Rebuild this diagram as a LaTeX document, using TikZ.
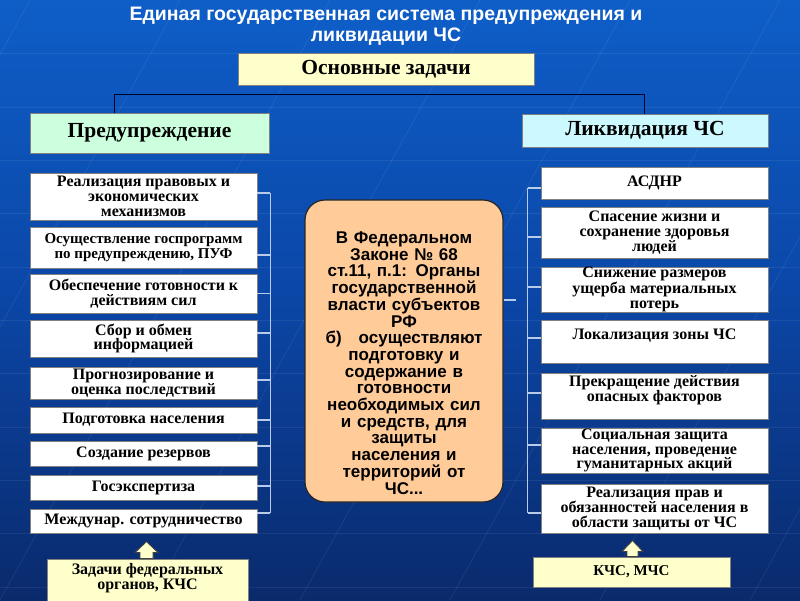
\documentclass[tikz,border=0pt]{standalone}
\usepackage{fontspec}
\setmainfont{Liberation Serif}
\newfontfamily\sansb{Liberation Sans}
\usetikzlibrary{calc}
\definecolor{bgtop}{HTML}{0E5EC8}
\definecolor{bgmid}{HTML}{0B46A6}
\definecolor{bgbot}{HTML}{0A2A6C}
\definecolor{yel}{HTML}{FFFFCC}
\definecolor{grn}{HTML}{CCFFDD}
\definecolor{cyn}{HTML}{CCF8FF}
\definecolor{peach}{HTML}{FFCC99}
\definecolor{brkc}{HTML}{B8CCEA}
\begin{document}
\begin{tikzpicture}[x=1pt,y=-1pt,
  box/.style={draw=black!50, line width=0.8pt, inner sep=0pt, align=center,
    font=\fontsize{16}{14.8}\selectfont\bfseries},
  wbox/.style={box, fill=white, minimum width=227pt},
  head/.style={box, font=\fontsize{21.5}{24}\selectfont\bfseries},
  conn/.style={draw=black!85!blue, line width=1pt},
  brk/.style={draw=brkc, line width=1.2pt},
  barrow/.style={draw=black!75, fill=yel, line width=0.8pt, line join=miter},
  faint/.style={draw=white, opacity=0.07, line width=0.8pt}]
% background
\useasboundingbox (0,0) rectangle (800,600);
\shade[top color=bgtop, bottom color=bgbot, middle color=bgmid] (0,0) rectangle (800,600);
\foreach \y in {53,107,160,213,267,320,373,427,480,533,587}
  \draw[faint] (0,\y) -- (800,\y);
\foreach \x in {-300,-150,0,150,300,450,600,750}
  \draw[faint] (\x,600) -- (\x+330,0);

% title
\node[font=\sansb\bfseries\fontsize{19.5}{20.5}\selectfont, text=white, align=center] (title) at (386,26)
  {Единая государственная система предупреждения и\\ликвидации ЧС};

% headers
\node[head, fill=yel, minimum width=296pt, minimum height=32pt] (osn) at (386,69) {Основные задачи};
\node[head, fill=grn, minimum width=239pt, minimum height=40pt] (pred) at (149.5,133) {Предупреждение};
\node[head, fill=cyn, minimum width=246pt, minimum height=33pt] (liq) at (645,130.5) {Ликвидация ЧС};
\draw[conn] ([xshift=85pt]pred.north west) -- ++(0,-18) -| ([xshift=123pt]liq.north west);

% left column
\node[wbox, minimum height=47pt] (L1) at (143.5,196.5) {Реализация правовых и\\экономических\\механизмов};
\node[wbox, minimum height=41pt, font=\fontsize{15}{14.5}\selectfont\bfseries] (L2) at (143.5,247.5) {Осуществление госпрограмм\\по предупреждению, ПУФ};
\node[wbox, minimum height=39pt] (L3) at (143.5,293.5) {Обеспечение готовности к\\действиям сил};
\node[wbox, minimum height=37pt] (L4) at (143.5,338.5) {Сбор и обмен\\информацией};
\node[wbox, minimum height=32pt] (L5) at (143.5,383) {Прогнозирование и\\оценка последствий};
\node[wbox, minimum height=26pt] (L6) at (143.5,420) {Подготовка населения};
\node[wbox, minimum height=25pt] (L7) at (143.5,453.5) {Создание резервов};
\node[wbox, minimum height=25pt] (L8) at (143.5,487.5) {Госэкспертиза};
\node[wbox, minimum height=24pt] (L9) at (143.5,521) {Междунар. сотрудничество};

\coordinate (blt) at ($(L1.east)+(13,-3.5)$);
\coordinate (blb) at ($(L9.east)+(13,-8)$);
\draw[brk] (blt) -- (blb);
\foreach \n/\d in {L1/-3.5,L2/7.5,L3/0,L4/-5.5,L5/-3,L6/0,L7/-7.5,L8/-1.5,L9/-8}
  \draw[brk] ($(\n.east)+(0,\d)$) -- ($(\n.east)+(13,\d)$);

% right column
\node[wbox, minimum height=32pt] (R1) at (654.5,183) {АСДНР};
\node[wbox, minimum height=51pt] (R2) at (654.5,232.5) {Спасение жизни и\\сохранение здоровья\\людей};
\node[wbox, minimum height=45pt] (R3) at (654.5,289.5) {Снижение размеров\\ущерба материальных\\потерь};
\node[wbox, minimum height=43pt] (R4) at (654.5,341.5) {Локализация зоны ЧС\\\mbox{}};
\node[wbox, minimum height=46pt] (R5) at (654.5,396) {Прекращение действия\\опасных факторов\\\mbox{}};
\node[wbox, minimum height=45pt] (R6) at (654.5,450.5) {Социальная защита\\населения, проведение\\гуманитарных акций};
\node[wbox, minimum height=49pt] (R7) at (654.5,508.5) {Реализация прав и\\обязанностей населения в\\области защиты от ЧС};

\coordinate (brt) at ($(R1.west)+(-13,5)$);
\coordinate (brb) at ($(R7.west)+(-13,4.5)$);
\draw[brk] (brt) -- (brb);
\foreach \n/\d in {R1/5,R2/4.5,R3/-2.5,R4/-3.5,R5/-3,R6/-5.5,R7/4.5}
  \draw[brk] ($(\n.west)+(0,\d)$) -- ($(\n.west)+(-13,\d)$);

% center
\node[draw=black!85, line width=1.2pt, fill=peach, rounded corners=20pt, minimum width=198pt,
  minimum height=302pt, inner sep=0pt, align=center, text width=194pt,
  font=\sansb\bfseries\fontsize{17}{16.7}\selectfont] (cen) at (404,351)
  {\mbox{}\\[19pt]В Федеральном\\Законе № 68\\ст.11, п.1: Органы\\государственной\\власти субъектов\\РФ\\б)\quad осуществляют\\подготовку и\\содержание в\\готовности\\необходимых сил\\и средств, для\\защиты\\населения и\\территорий от\\ЧС...};
\draw[brk] ($(cen.east)+(0,-51)$) -- ++(12,0);

% bottom
\node[box, fill=yel, minimum width=201pt, minimum height=46pt] (zad) at (147.5,582) {Задачи федеральных\\органов, КЧС\\[-4pt]\mbox{}};
\node[box, fill=yel, minimum width=197pt, minimum height=30pt, font=\fontsize{15}{15}\selectfont\bfseries] (kchs) at (631.5,572) {КЧС, МЧС};
\draw[barrow] ($(zad.north)+(-1,0)$) ++(-6.5,0) -- ++(0,-6) -- ++(-5,0) -- ++(11.5,-11) -- ++(11.5,11) -- ++(-5,0) -- ++(0,6) -- cycle;
\draw[barrow] ($(kchs.north)+(1,0)$) ++(-5.5,0) -- ++(0,-5) -- ++(-5,0) -- ++(10.5,-11) -- ++(10.5,11) -- ++(-5,0) -- ++(0,5) -- cycle;
\end{tikzpicture}
\end{document}
